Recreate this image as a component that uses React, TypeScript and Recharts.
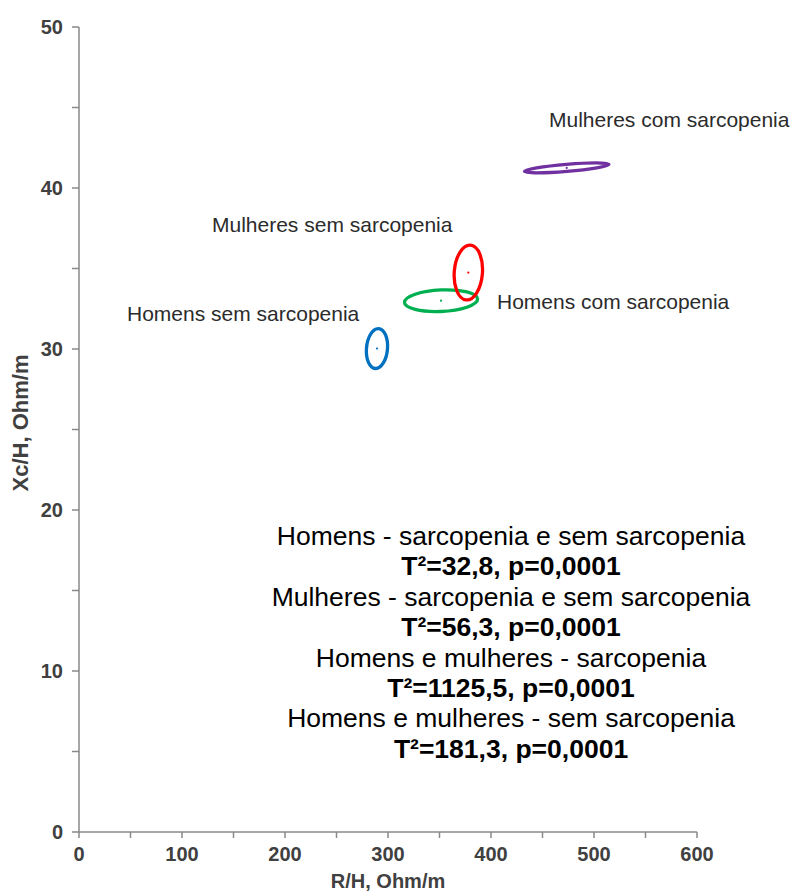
import { Scatter, ScatterChart, XAxis, YAxis } from "recharts";

// Axis ticks: minor every 50 / 5, labels only on the major ones
const xTicks = [0, 50, 100, 150, 200, 250, 300, 350, 400, 450, 500, 550, 600];
const yTicks = [0, 5, 10, 15, 20, 25, 30, 35, 40, 45, 50];

// Each ellipse: centre, end of one semi-axis, end of the conjugate semi-axis
// (R/H, Xc/H in Ohm/m).
const homensSem = [
  { x: 289.3, y: 30.03, role: "c" },
  { x: 290.8, y: 31.27, role: "a" },
  { x: 299.5, y: 30.0, role: "b" },
];
const homensCom = [
  { x: 351.5, y: 33.0, role: "c" },
  { x: 387.0, y: 33.1, role: "a" },
  { x: 351.5, y: 32.33, role: "b" },
];
const mulheresSem = [
  { x: 378.0, y: 34.75, role: "c" },
  { x: 380.3, y: 36.45, role: "a" },
  { x: 391.6, y: 34.65, role: "b" },
];
const mulheresCom = [
  { x: 473.5, y: 41.25, role: "c" },
  { x: 514.5, y: 41.47, role: "a" },
  { x: 473.8, y: 41.03, role: "b" },
];

const groupNames = [
  "Mulheres com sarcopenia",
  "Mulheres sem sarcopenia",
  "Homens com sarcopenia",
  "Homens sem sarcopenia",
];

const statLines = [
  { text: "Homens - sarcopenia e sem sarcopenia", bold: false },
  { text: "T²=32,8, p=0,0001", bold: true },
  { text: "Mulheres - sarcopenia e sem sarcopenia", bold: false },
  { text: "T²=56,3, p=0,0001", bold: true },
  { text: "Homens e mulheres - sarcopenia", bold: false },
  { text: "T²=1125,5, p=0,0001", bold: true },
  { text: "Homens e mulheres - sem sarcopenia", bold: false },
  { text: "T²=181,3, p=0,0001", bold: true },
];

const FONT = "'Liberation Sans', Arial, sans-serif";
const AXIS = "#898989";
const TICK_TEXT = "#404040";

// Draws the ellipse from the three projected points: a unit circle mapped by
// the two semi-axis vectors (affine, so it stays exact in pixel space).
function ellipseLine(color: string) {
  return (props: any) => {
    const pts = props.points || [];
    if (pts.length < 3) return <g />;
    const [c, a, b] = pts;
    const m = `matrix(${a.x - c.x} ${a.y - c.y} ${b.x - c.x} ${b.y - c.y} ${c.x} ${c.y})`;
    return (
      <circle
        cx={0}
        cy={0}
        r={1}
        transform={m}
        fill="none"
        stroke={color}
        strokeWidth={3.3}
        vectorEffect="non-scaling-stroke"
      />
    );
  };
}

function centreDot(color: string) {
  return (props: any) => {
    if (props.payload?.role !== "c") return <g />;
    return <circle cx={props.cx} cy={props.cy} r={1.1} fill={color} />;
  };
}

const YTick = (props: any) => {
  const { x, y, payload } = props;
  if (payload.value % 10 !== 0) return <g />;
  return (
    <text x={x} y={y} dy="0.355em" textAnchor="end" fontFamily={FONT} fontSize={20} fontWeight="bold" fill={TICK_TEXT}>
      {payload.value}
    </text>
  );
};

const XTick = (props: any) => {
  const { x, y, payload } = props;
  if (payload.value % 100 !== 0) return <g />;
  return (
    <text x={x} y={y} dy="0.71em" textAnchor="middle" fontFamily={FONT} fontSize={20} fontWeight="bold" fill={TICK_TEXT}>
      {payload.value}
    </text>
  );
};

const series = [
  { name: "homensSem", data: homensSem, color: "#0070C0" },
  { name: "homensCom", data: homensCom, color: "#00B050" },
  { name: "mulheresSem", data: mulheresSem, color: "#FF0000" },
  { name: "mulheresCom", data: mulheresCom, color: "#7030A0" },
];

export default function App() {
  return (
    <div style={{ position: "absolute", left: 0, top: 0, width: 810, height: 894, background: "#fff" }}>
      <ScatterChart width={810} height={894} margin={{ top: 27, right: 113, bottom: 0, left: 0 }}>
        <XAxis
          type="number"
          dataKey="x"
          domain={[0, 600]}
          ticks={xTicks}
          interval={0}
          height={62}
          tickSize={6}
          tickMargin={9}
          stroke={AXIS}
          strokeWidth={1.5}
          tick={<XTick />}
        />
        <YAxis
          type="number"
          dataKey="y"
          domain={[0, 50]}
          ticks={yTicks}
          interval={0}
          width={79}
          tickSize={7}
          tickMargin={9}
          stroke={AXIS}
          strokeWidth={1.5}
          tick={<YTick />}
        />
        {series.map((s) => (
          <Scatter
            key={s.name}
            data={s.data}
            fill={s.color}
            line={ellipseLine(s.color)}
            shape={centreDot(s.color)}
            isAnimationActive={false}
          />
        ))}
      </ScatterChart>

      <svg
        width={810}
        height={894}
        style={{ position: "absolute", left: 0, top: 0, pointerEvents: "none" }}
        fontFamily={FONT}
      >
        <text x={549} y={127} fontSize={21} fill="#2b2b2b">{groupNames[0]}</text>
        <text x={212} y={232} fontSize={21} fill="#2b2b2b">{groupNames[1]}</text>
        <text x={497} y={309} fontSize={21} fill="#2b2b2b">{groupNames[2]}</text>
        <text x={127} y={321} fontSize={21} fill="#2b2b2b">{groupNames[3]}</text>

        {statLines.map((l, i) => (
          <text
            key={i}
            x={511}
            y={545 + i * 30.4}
            textAnchor="middle"
            fontSize={26.5}
            fontWeight={l.bold ? "bold" : "normal"}
            fill="#000"
          >
            {l.text}
          </text>
        ))}

        <text x={388} y={888} textAnchor="middle" fontSize={20} fontWeight="bold" fill={TICK_TEXT}>
          R/H, Ohm/m
        </text>
        <text
          x={28}
          y={423}
          textAnchor="middle"
          fontSize={22}
          fontWeight="bold"
          fill={TICK_TEXT}
          transform="rotate(-90 28 423)"
        >
          Xc/H, Ohm/m
        </text>
      </svg>
    </div>
  );
}
